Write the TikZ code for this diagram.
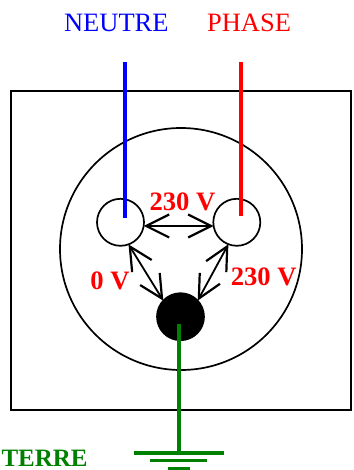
\documentclass[tikz,border=0pt]{standalone}
\usepackage{fontspec}
\setmainfont{Liberation Serif}
\usetikzlibrary{arrows.meta}
\definecolor{terre}{RGB}{0,128,0}
\tikzset{
  box/.style={draw=black,line width=1.7pt},
  socket/.style={circle,draw=black,line width=1.7pt,minimum size=47pt,inner sep=0pt,outer sep=0pt},
  volt/.style={{Straight Barb[length=23pt,width=23pt,line width=2.2pt]}-{Straight Barb[length=23pt,width=23pt,line width=2.2pt]},line width=1.8pt,black},
  wire/.style={line width=3.7pt},
  lab/.style={anchor=base,inner sep=0pt,font=\fontsize{26.5}{26.5}\selectfont},
  vlab/.style={lab,text=red,font=\fontsize{26.6}{26.6}\selectfont\bfseries}
}
\begin{document}
\begin{tikzpicture}[x=1pt,y=-1pt]
\useasboundingbox (0,0) rectangle (353,470);
\node[box,draw,minimum width=340pt,minimum height=319pt,inner sep=0pt,outer sep=0pt] (plate) at (181,250.5) {};
\node[socket,minimum size=242pt] (face) at (181,249) {};
\node[socket] (L) at (120.5,222.3) {};
\node[socket] (R) at (236.8,222.3) {};
\node[socket,fill=black,minimum size=47pt] (E) at (180.5,316.7) {};
\draw[volt] (L.-9) -- (R.189);
\draw[volt] (L.-70) -- (E.137);
\draw[volt] (R.-111) -- (E.43);
\coordinate (nTop) at (125,62);
\coordinate (nEnd) at (125,217.7);
\coordinate (pTop) at (241,62);
\coordinate (pEnd) at (241,215.6);
\coordinate (gStart) at (179,324);
\coordinate (gEnd) at (179,452.7);
\draw[wire,blue] (nTop) -- (nEnd);
\draw[wire,red] (pTop) -- (pEnd);
\draw[wire,terre] (gStart) -- (gEnd);
\coordinate (g1a) at (134,452.7); \coordinate (g1b) at (224,452.7);
\coordinate (g2a) at (150,460.5); \coordinate (g2b) at (207,460.5);
\coordinate (g3a) at (168,468.5); \coordinate (g3b) at (190,468.5);
\draw[wire,terre] (g1a) -- (g1b);
\draw[wire,terre] (g2a) -- (g2b);
\draw[wire,terre] (g3a) -- (g3b);
\node[lab,text=blue] (neutre) at (116.3,31.7) {NEUTRE};
\node[lab,text=red] (phase) at (249,31.7) {PHASE};
\node[vlab] (v1) at (182.5,210.7) {230 V};
\node[vlab] (v2) at (110,289) {0 V};
\node[vlab] (v3) at (263.7,285) {230 V};
\node[lab,text=terre,font=\fontsize{25}{25}\selectfont\bfseries] (terreL) at (44.6,466.2) {TERRE};
\end{tikzpicture}
\end{document}
